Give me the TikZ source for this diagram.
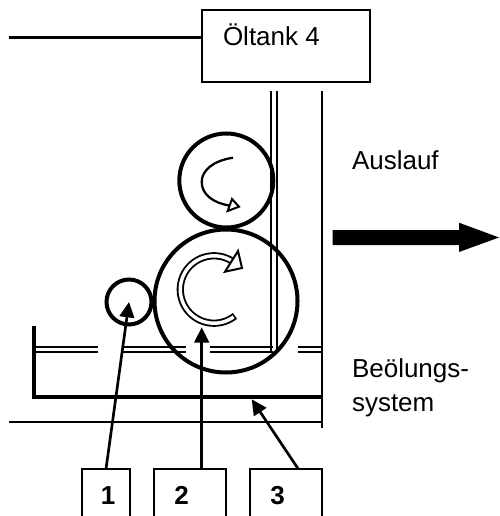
\documentclass[tikz,border=0pt]{standalone}
\usetikzlibrary{arrows.meta}
\usepackage{fontspec}
\setmainfont{Liberation Sans}
\begin{document}
\begin{tikzpicture}[x=0.75pt,y=-0.75pt,
  thin line/.style={line width=1.6pt,draw=black},
  thick line/.style={line width=3pt,draw=black},
  roller/.style={circle,draw=black,line width=3pt,inner sep=0pt,outer sep=0pt},
  boxnode/.style={rectangle,draw=black,line width=1.6pt,anchor=north west,inner sep=0pt,outer sep=0pt},
  lab/.style={anchor=base west,inner sep=0pt,outer sep=0pt,font=\fontsize{19.5pt}{24pt}\selectfont},
  numlab/.style={inner sep=0pt,font=\fontsize{19.5pt}{24pt}\selectfont\bfseries},
  ptr/.style={line width=2pt,draw=black,-{Triangle[length=11.5pt,width=11pt]}},
  open head/.style={line width=1.5pt,draw=black,fill=white,line join=miter}]
\useasboundingbox (0,0) rectangle (499,516);
% tank
\node[boxnode,minimum width=126pt,minimum height=54pt] (tank) at (201.7,10) {};
\node[lab] (tanktext) at (223,46) {Öltank 4};
\coordinate (feed) at (9,37.5);
\draw[thin line] (feed) -- (feed -| tank.west);
% walls
\draw[thin line] (271,91) -- (271,352.5);
\draw[thin line] (276.7,91) -- (276.7,352.5);
\draw[thin line] (322,91) -- (322,428);
% bath
\foreach \a/\b in {35.7/98,123/185.7,210/273,297.7/322}{
  \draw[thin line] (\a,346.7) -- (\b,346.7);
  \draw[thin line] (\a,351.7) -- (\b,351.7);
}
\draw[thick line,line join=miter] (34,326) -- (34,397.3) -- (322,397.3);
\draw[thin line] (9,421.7) -- (322,421.7);
% rollers
\node[roller,minimum size=70.5pt] (top) at (226.3,180.5) {};
\node[roller,minimum size=107.25pt] (big) at (226,301) {};
\node[roller,minimum size=33.75pt] (small) at (129,302) {};
% rotation arrows
\draw[line width=1.7pt] (233,157.7) .. controls (212,161) and (201.7,171) .. (201.7,182) .. controls (201.7,195) and (214,203) .. (229,205.5);
\draw[open head] (232,199) -- (239,206.7) -- (227.7,211) -- cycle;
\draw[line width=5.4pt] plot[smooth,samples=60,domain=-58.4:-308.4] ({214+33.7*cos(\x)},{289.5+33.7*sin(\x)});
\draw[line width=2.6pt,white] plot[smooth,samples=60,domain=-55:-305.5] ({214+33.7*cos(\x)},{289.5+33.7*sin(\x)});
\draw[open head] (238,251) -- (242,268) -- (225,271.7) -- cycle;
% outlet
\fill[black] (332.7,230) -- (459,230) -- (459,222.7) -- (499,237.5) -- (459,252) -- (459,245) -- (332.7,245) -- cycle;
\node[lab] (auslauf) at (352,170) {Auslauf};
\node[lab,align=left,anchor=north west] (beol) at (352,358.5) {Beölungs-\\[1.5pt]system};
% number boxes
\node[boxnode,minimum width=36pt,minimum height=40pt] (b1) at (82,469) {};
\node[boxnode,minimum width=54pt,minimum height=40pt] (b2) at (154,469) {};
\node[boxnode,minimum width=54pt,minimum height=40pt] (b3) at (250,469) {};
\node[numlab] (n1) at (108,495.5) {1};
\node[numlab] (n2) at (181.5,495.5) {2};
\node[numlab] (n3) at (277.5,495.5) {3};
\coordinate (t2) at (201.7,327.3);
\coordinate (t3) at (251.7,399.3);
\coordinate (s3) at (298.3,469);
\draw[ptr] (b1.north) -- (small.center);
\draw[ptr] (t2 |- b2.north) -- (t2);
\draw[ptr] (s3) -- (t3);
\end{tikzpicture}
\end{document}
